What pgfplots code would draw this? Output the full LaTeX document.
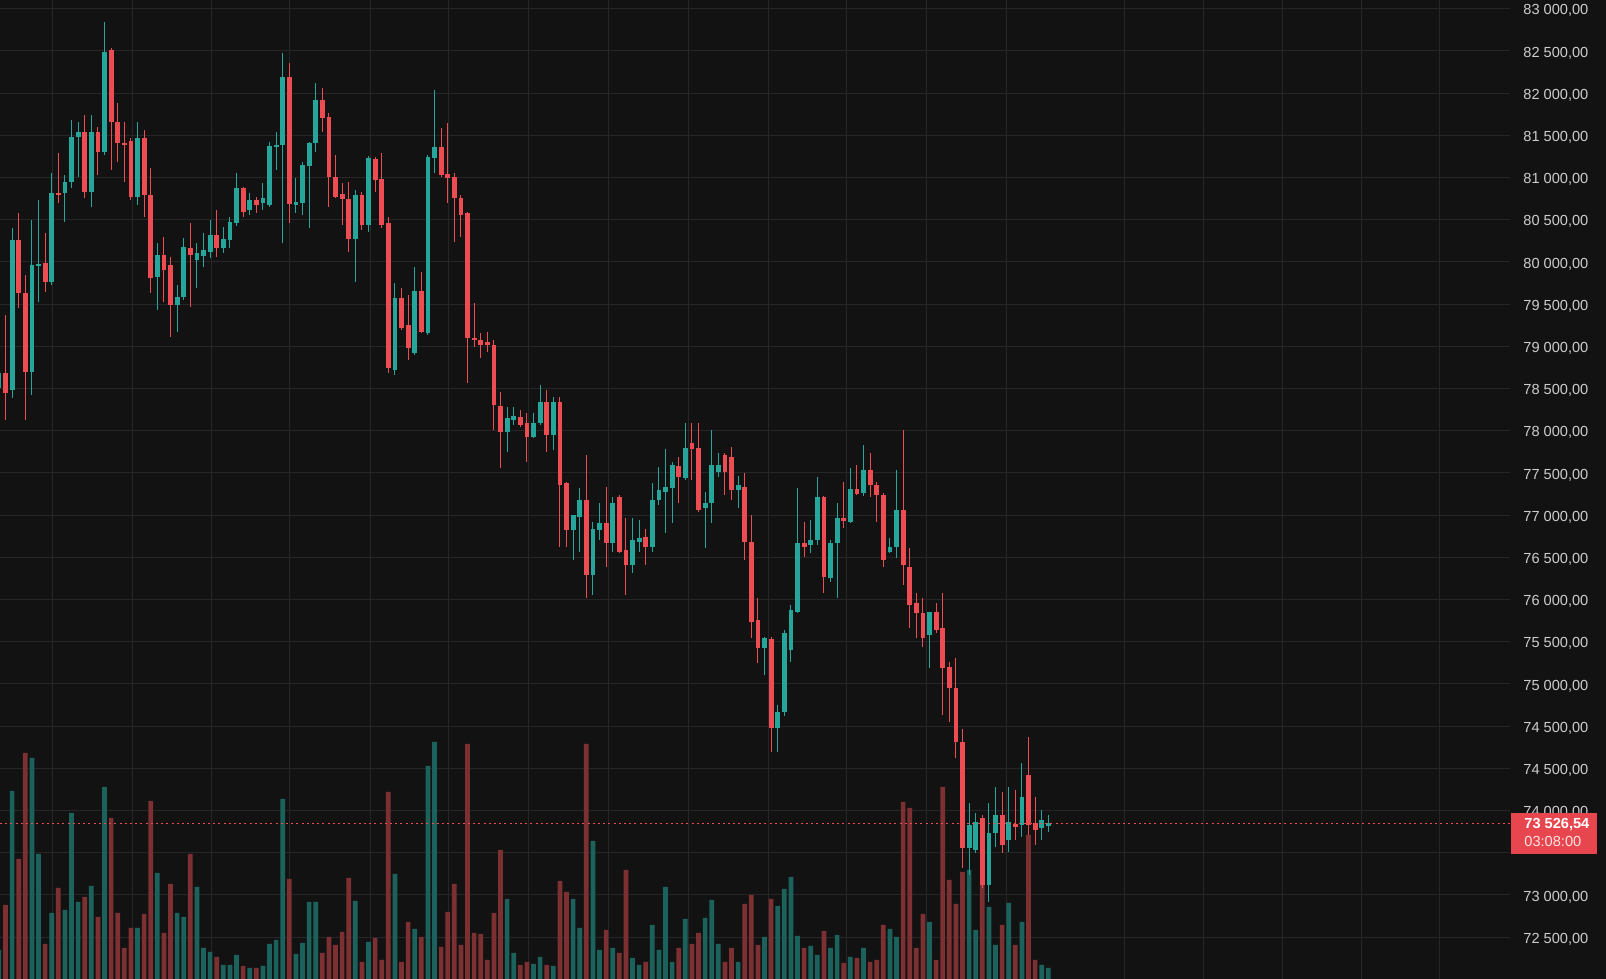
\documentclass[border=0pt]{standalone}
\usepackage{fontspec}
\setmainfont{Liberation Sans}
\usepackage{pgfplots}
\usepackage{pgfplotstable}
\pgfplotsset{compat=1.18}
\definecolor{bgc}{RGB}{18,18,18}
\definecolor{gridc}{RGB}{38,38,40}
\definecolor{upc}{RGB}{38,166,154}
\definecolor{dnc}{RGB}{236,76,82}
\definecolor{volup}{RGB}{28,98,92}
\definecolor{voldn}{RGB}{125,48,50}
\definecolor{labc}{RGB}{205,205,208}
\definecolor{boxc}{RGB}{232,70,78}

\pgfplotstableread{
i o h l c
-1 78506 78779 78423 78684
1 78482 80402 78388 80260
4 78696 80497 78423 79964
5 79952 80734 79525 79976
7 79762 81054 79727 80817
9 80817 81030 80473 80947
10 80947 81682 80876 81481
11 81481 81658 81007 81540
13 80829 81741 80651 81540
15 81303 82843 81267 82488
20 80770 81658 80675 81469
23 79822 80224 79430 80082
26 79490 79727 79170 79585
27 79585 80284 79549 80177
29 80023 80224 79691 80106
30 80070 80343 79940 80141
31 80118 80497 80047 80319
33 80165 80414 80106 80272
34 80260 80533 80165 80473
35 80461 81054 80426 80876
37 80615 80817 80556 80734
39 80698 80935 80615 80758
40 80675 81421 80651 81374
41 81362 81540 81089 81386
42 81386 82476 80224 82192
44 80675 80995 80580 80710
45 80698 81184 80556 81149
46 81137 81421 80402 81409
47 81409 82120 81303 81919
53 80272 80852 79762 80793
55 80438 81255 80355 81232
59 78719 79750 78660 79573
62 78921 79940 78897 79656
64 79158 81267 79134 81244
65 81232 82037 81054 81362
76 77985 78281 77748 78151
77 78127 78281 78068 78174
80 77926 78210 77914 78092
81 78092 78542 78068 78340
83 77949 78400 77771 78340
86 76823 77001 76468 77001
87 76978 77321 76563 77179
89 76290 76918 76050 76835
90 76823 77143 76705 76906
92 76669 77215 76563 77143
95 76409 76966 76314 76705
96 76681 76942 76563 76729
98 76622 77380 76563 77179
99 77179 77570 77120 77298
100 77274 77783 76788 77333
101 77321 77629 76906 77594
103 77440 78092 77416 77795
106 77084 77274 76610 77143
107 77143 78008 76906 77594
108 77511 77736 77452 77594
111 77298 77463 77084 77357
115 75425 75556 75105 75544
117 74477 74750 74192 74667
118 74667 75639 74619 75603
119 75401 75935 75259 75876
120 75852 77321 75840 76669
122 76646 76942 76551 76705
123 76705 77452 76646 77215
125 76255 76705 76207 76669
126 76669 77143 76018 76966
128 76918 77558 76906 77309
130 77262 77831 77226 77534
134 76563 76729 76551 76622
135 76622 77534 76492 77060
140 75579 75852 75188 75852
146 73055 73588 72735 73328
147 73031 73470 72996 73363
149 72617 73588 72415 73233
150 73233 73778 73067 73446
152 73150 73778 73008 73363
154 73328 74062 73186 73659
157 73292 73506 73150 73387
158 73316 73446 73245 73352
}\upcandles

\pgfplotstableread{
i o h l c
0 78684 79371 78127 78447
2 80260 80580 79454 79632
3 79632 79845 78127 78696
6 79987 80343 79644 79762
8 80817 81291 80698 80793
12 81540 81741 80758 80829
14 81540 81599 81030 81303
16 82511 82535 81089 81658
17 81658 81883 81184 81409
18 81409 81658 80947 81386
19 81433 81469 80734 80770
21 81469 81563 80533 80793
22 80793 81113 79632 79810
24 80082 80296 79525 79904
25 79964 80059 79111 79490
28 80165 80461 79466 80082
32 80319 80615 80059 80165
36 80876 80888 80533 80592
38 80734 80770 80580 80675
43 82192 82357 80461 80687
48 81919 82061 81540 81706
49 81718 81765 80651 81007
50 81007 81267 80758 80770
51 80805 80935 80438 80746
52 80746 80947 80118 80272
54 80793 80829 80378 80438
56 81220 81244 80829 80971
57 80983 81291 80402 80438
58 80461 80533 78684 78743
60 79573 79691 79193 79217
61 79253 79608 78838 78980
63 79656 79881 79158 79170
66 81362 81587 81007 81030
67 81042 81646 80698 80995
68 81007 81054 80236 80758
69 80758 80793 80296 80556
70 80580 80592 78565 79099
71 79099 79513 78992 79075
72 79075 79158 78862 79016
73 79051 79170 78933 79016
74 79016 79075 78008 78305
75 78293 78459 77558 77985
78 78163 78246 78044 78068
79 78092 78210 77629 77926
82 78340 78482 77748 77949
84 78340 78400 76622 77357
85 77380 77392 76622 76823
88 77179 77712 76014 76290
91 76906 77333 76384 76669
93 77215 77238 76551 76563
94 76586 76966 76050 76409
97 76741 76835 76409 76622
102 77582 77689 77143 77452
104 77854 78092 77416 77783
105 77795 78092 77037 77060
109 77712 77736 77238 77511
110 77689 77807 77179 77298
112 77333 77499 76468 76681
113 76681 77001 75544 75733
114 75757 76014 75248 75425
116 75532 75556 74192 74477
121 76669 76918 76503 76622
124 77215 77230 76077 76267
127 76966 77392 76847 76930
129 77309 77594 77238 77250
131 77534 77736 77215 77357
132 77357 77392 76918 77238
133 77238 77262 76384 76468
136 77060 78008 76172 76409
137 76384 76610 75662 75935
138 75959 76077 75544 75840
139 75840 76014 75437 75544
141 75852 75959 75603 75639
142 75662 76077 74631 75188
143 75200 75259 74548 74951
144 74951 75307 74122 74311
145 74311 74465 72818 73055
148 73411 73446 72581 72617
151 73446 73719 72996 73091
153 73340 73743 73150 73304
155 73920 74371 73209 73328
156 73352 73659 73091 73268
}\dncandles

\pgfplotstableread{
i v
-1 29
1 188
4 221
5 125
7 66
9 69
10 166
11 77
13 93
15 192
20 51
23 106
26 66
27 62
29 92
30 31
31 27
33 14
34 14
35 24
37 11
39 13
40 35
41 39
42 180
44 25
45 36
46 77
47 77
53 78
55 37
59 105
62 50
64 213
65 237
76 80
77 26
80 15
81 22
83 13
86 80
87 51
89 138
90 29
92 31
95 21
96 14
98 54
99 29
100 92
101 17
103 60
106 61
107 79
108 35
111 17
115 42
117 73
118 90
119 102
120 43
122 33
123 24
125 31
126 44
128 22
130 31
134 50
135 42
140 57
146 109
147 49
149 72
150 34
152 76
154 57
157 14
158 11
}\volupt

\pgfplotstableread{
i v
0 74
2 120
3 226
6 35
8 91
12 82
14 62
16 161
17 66
18 31
19 51
21 65
22 178
24 46
25 95
28 125
32 22
36 13
38 11
43 100
48 26
49 42
50 34
51 47
52 101
54 17
56 41
57 19
58 187
60 17
61 57
63 42
66 32
67 67
68 95
69 34
70 235
71 46
72 45
73 19
74 66
75 129
78 14
79 17
82 14
84 98
85 87
88 235
91 49
93 26
94 109
97 17
102 31
104 35
105 46
109 17
110 31
112 75
113 84
114 34
116 80
121 31
124 48
127 16
129 21
131 17
132 19
133 54
136 177
137 171
138 31
139 65
141 19
142 192
143 99
144 75
145 107
148 94
151 54
153 34
155 144
156 19
}\voldnt

\pgfplotsset{
  base/.style={
    scale only axis, width=755pt, height=489.5pt,
    at={(0,0)}, anchor=south west,
    xmin=-0.8333, xmax=227.95,
    axis line style={draw=none}, tick style={draw=none},
    major tick length=0pt,
  },
  wick/.style={draw=none, forget plot,
    error bars/y dir=minus, error bars/y explicit,
    error bars/error mark=none,
    error bars/error bar style={draw=#1, solid, line width=0.55pt}},
  body/.style={draw=none, forget plot,
    error bars/y dir=minus, error bars/y explicit,
    error bars/error mark=none,
    error bars/error bar style={draw=#1, solid, line width=2.4pt, line cap=butt}},
}

\begin{document}
\begin{tikzpicture}
\fill[bgc] (0,0) rectangle (803pt,489.5pt);

% grid and price labels
\begin{axis}[base, ymin=71503, ymax=83104,
  xtick=\empty,
  ytick={72000,72500,...,83000},
  yticklabels={{72 500,00},{73 000,00},{},{74 000,00},{74 500,00},{74 500,00},{75 000,00},{75 500,00},{76 000,00},{76 500,00},{77 000,00},{77 500,00},{78 000,00},{78 500,00},{79 000,00},{79 500,00},{80 000,00},{80 500,00},{81 000,00},{81 500,00},{82 000,00},{82 500,00},{83 000,00}},
  yticklabel pos=right,
  yticklabel style={anchor=west, inner sep=0pt, xshift=6.5pt, yshift=-1pt, font=\fontsize{7.3}{8}\selectfont, text=labc},
  ymajorgrids, grid style={draw=gridc, line width=0.5pt},
]
\pgfplotsinvokeforeach{7.15,19.27,31.24,43.0,55.23,67.09,79.21,91.33,103.45,115.58,127.45,139.58,151.7,169.47,181.44,193.41,205.38,217.2}{
  \addplot[gridc, line width=0.5pt, forget plot] coordinates {(#1,71503) (#1,83104)};
}
\end{axis}

% volume
\begin{axis}[base, ymin=0, ymax=979, xtick=\empty, ytick=\empty]
\addplot[ybar, bar width=2.35pt, bar shift=0pt, fill=volup, draw=none] table[x=i, y=v] {\volupt};
\addplot[ybar, bar width=2.35pt, bar shift=0pt, fill=voldn, draw=none] table[x=i, y=v] {\voldnt};
\end{axis}

% candles
\begin{axis}[base, ymin=71503, ymax=83104, xtick=\empty, ytick=\empty, clip=true]
\addplot[wick=upc] table[x=i, y=h, y error expr={\thisrow{h}-\thisrow{l}}] {\upcandles};
\addplot[wick=dnc] table[x=i, y=h, y error expr={\thisrow{h}-\thisrow{l}}] {\dncandles};
\addplot[body=upc] table[x=i, y=c, y error expr={max(\thisrow{c}-\thisrow{o},14)}] {\upcandles};
\addplot[body=dnc] table[x=i, y=o, y error expr={max(\thisrow{o}-\thisrow{c},14)}] {\dncandles};
\addplot[dnc, line width=0.5pt, dash pattern=on 1pt off 1.6pt, forget plot] coordinates {(-0.8333,73340) (227.95,73340)};
\end{axis}

\fill[boxc] (755.35pt,62.5pt) rectangle (798.35pt,83.15pt);
\node[anchor=west, inner sep=0pt, text=white, font=\fontsize{7.3}{8}\selectfont\bfseries] at (762pt,77.35pt) {73 526,54};
\node[anchor=west, inner sep=0pt, text={rgb,255:red,255;green,228;blue,228}, font=\fontsize{7.3}{8}\selectfont] at (762pt,68.65pt) {03:08:00};

\pgfresetboundingbox
\useasboundingbox (0,0) rectangle (803pt,489.5pt);
\end{tikzpicture}
\end{document}
